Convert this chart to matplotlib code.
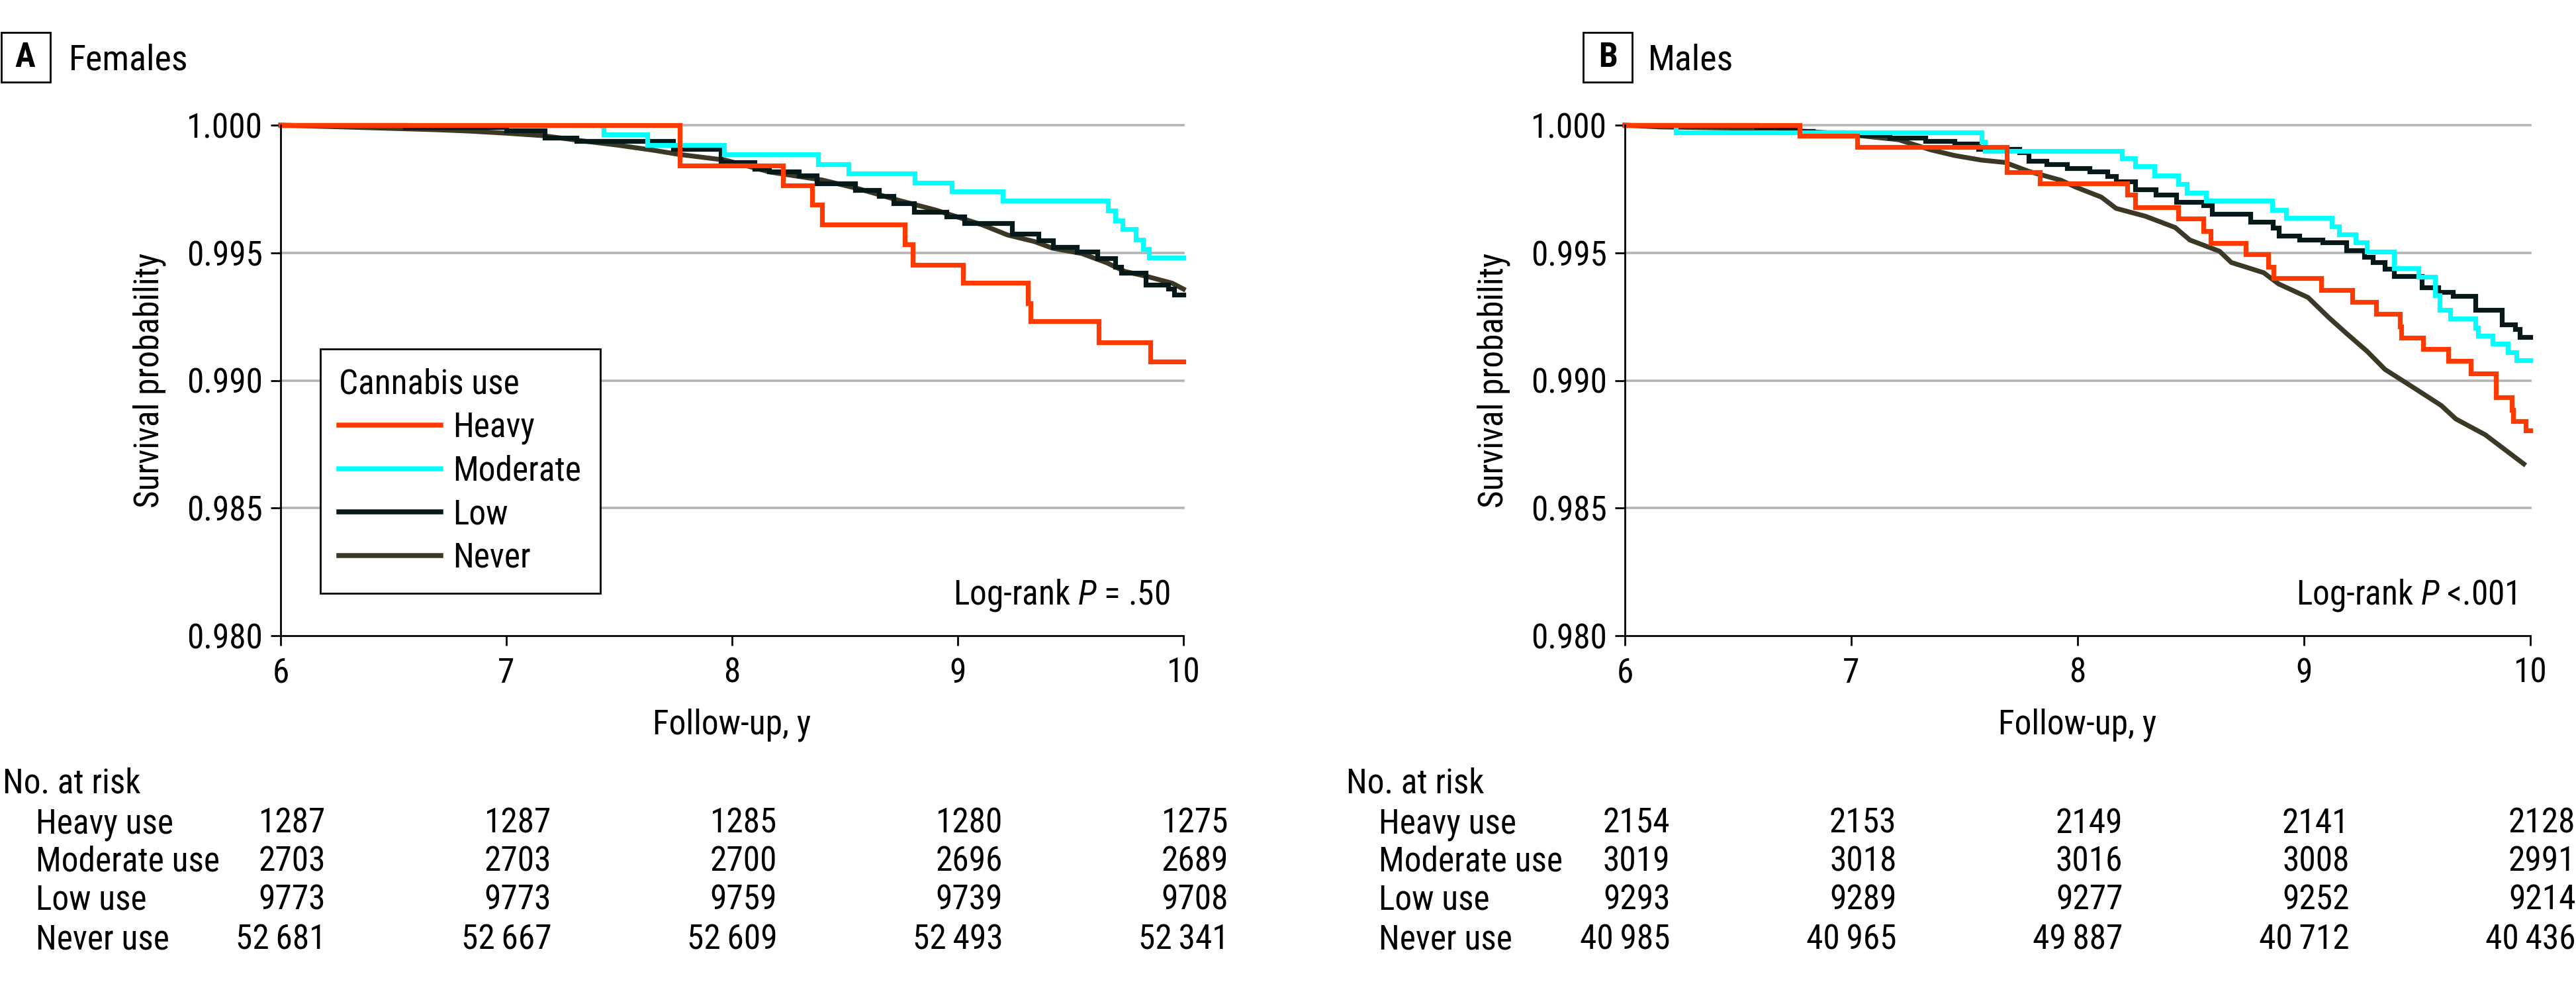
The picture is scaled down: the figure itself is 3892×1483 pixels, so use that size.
import matplotlib
matplotlib.use('Agg')
import matplotlib.pyplot as plt
from matplotlib import font_manager as fm
from matplotlib.patches import Rectangle
from matplotlib.lines import Line2D
from matplotlib.ticker import FormatStrFormatter
import matplotlib.transforms as mtransforms

# ---------------- data ----------------
groups = ["Heavy", "Moderate", "Low", "Never"]
row_labels = ["Heavy use", "Moderate use", "Low use", "Never use"]
x_ticks = [6, 7, 8, 9, 10]
y_ticks = [0.980, 0.985, 0.990, 0.995, 1.000]

# Panel A - Females
fa_heavy_t = [6.0, 7.768, 8.227, 8.355, 8.40, 8.765, 8.80, 9.023, 9.311, 9.324, 9.625, 9.852, 10.0]
fa_heavy_s = [1.0, 0.99842, 0.99764, 0.99689, 0.99611, 0.99534, 0.99453, 0.99383, 0.99303, 0.99231, 0.99148, 0.99073, 0.99073]
fa_mod_t = [6.0, 7.43, 7.625, 7.965, 8.382, 8.516, 8.81, 8.973, 9.2, 9.665, 9.698, 9.73, 9.789, 9.822, 9.848, 10.0]
fa_mod_s = [1.0, 0.99964, 0.99922, 0.99886, 0.99847, 0.99811, 0.99775, 0.99741, 0.99705, 0.99666, 0.99627, 0.99593, 0.99552, 0.99516, 0.99482, 0.99482]
fa_low_t = [6.0, 6.55, 7.0, 7.17, 7.31, 7.74, 7.95, 8.10, 8.165, 8.296, 8.375, 8.545, 8.65, 8.715, 8.807, 8.951,
            9.03, 9.24, 9.357, 9.422, 9.527, 9.619, 9.697, 9.723, 9.834, 9.932, 9.959, 10.0]
fa_low_s = [1.0, 0.99992, 0.99978, 0.99951, 0.99938, 0.99907, 0.99855, 0.9983, 0.99819, 0.99803, 0.99772, 0.99746,
            0.99723, 0.99694, 0.9966, 0.99642, 0.99617, 0.99575, 0.99549, 0.99523, 0.99505, 0.99479, 0.99446, 0.99422,
            0.99376, 0.99358, 0.99337, 0.99337]
fa_never_t = [6.0, 6.39, 6.69, 6.83, 6.99, 7.16, 7.34, 7.49, 7.65, 7.76, 7.97, 8.17, 8.40, 8.56, 8.74, 8.90, 9.11,
              9.22, 9.34, 9.42, 9.55, 9.66, 9.74, 9.84, 9.95, 10.0]
fa_never_s = [1.0, 0.9999, 0.99982, 0.99977, 0.99969, 0.99959, 0.99938, 0.99922, 0.99902, 0.99886, 0.99863, 0.99816,
              0.99785, 0.99751, 0.99705, 0.99668, 0.99609, 0.9957, 0.99544, 0.99518, 0.99497, 0.99461, 0.99427,
              0.99407, 0.99381, 0.99358]

# Panel B - Males
mb_heavy_t = [6.0, 6.772, 7.027, 7.686, 7.832, 8.22, 8.254, 8.443, 8.555, 8.587, 8.744, 8.842, 8.866, 9.075, 9.214,
              9.318, 9.423, 9.43, 9.527, 9.638, 9.736, 9.847, 9.919, 9.925, 9.98, 10.0]
mb_heavy_s = [1.0, 0.99958, 0.99914, 0.99815, 0.99771, 0.99727, 0.99678, 0.99634, 0.99586, 0.99537, 0.99495, 0.99444,
              0.994, 0.99354, 0.99308, 0.99261, 0.99211, 0.99168, 0.99123, 0.99076, 0.99028, 0.98935, 0.98884, 0.9884,
              0.98805, 0.98805]
mb_mod_t = [6.0, 6.224, 7.575, 7.59, 8.196, 8.254, 8.339, 8.443, 8.483, 8.567, 8.861, 8.92, 9.123, 9.155, 9.227,
            9.279, 9.397, 9.507, 9.579, 9.599, 9.645, 9.756, 9.77, 9.834, 9.9, 9.939, 10.0]
mb_mod_s = [1.0, 0.99971, 0.99934, 0.999, 0.9987, 0.99839, 0.99803, 0.99768, 0.99735, 0.99705, 0.99669, 0.99638,
            0.99603, 0.99572, 0.9954, 0.99504, 0.9944, 0.99405, 0.99334, 0.99277, 0.99242, 0.99206, 0.99175, 0.99145,
            0.99109, 0.99078, 0.99078]
mb_low_t = [6.0, 6.583, 6.687, 6.752, 6.831, 6.961, 7.17, 7.327, 7.457, 7.562, 7.744, 7.784, 7.862, 7.953, 8.052,
            8.131, 8.17, 8.255, 8.346, 8.437, 8.555, 8.594, 8.764, 8.862, 8.888, 8.979, 9.083, 9.188, 9.266, 9.305,
            9.358, 9.397, 9.521, 9.593, 9.658, 9.756, 9.873, 9.932, 9.952, 10.0]
mb_low_s = [1.0, 0.99991, 0.99982, 0.99976, 0.99971, 0.9996, 0.9995, 0.99938, 0.99927, 0.99907, 0.99894, 0.99859,
            0.99846, 0.99832, 0.99819, 0.998, 0.9978, 0.99749, 0.99727, 0.997, 0.99687, 0.99652, 0.99621, 0.99599,
            0.99568, 0.9955, 0.99541, 0.99511, 0.99484, 0.99462, 0.99436, 0.99409, 0.99365, 0.99347, 0.9933, 0.99277,
            0.9922, 0.99202, 0.99171, 0.99171]
mb_never_t = [6.0, 6.152, 6.596, 6.948, 7.209, 7.353, 7.457, 7.575, 7.679, 7.784, 7.927, 7.99, 8.105, 8.17, 8.3,
              8.431, 8.496, 8.627, 8.679, 8.822, 8.888, 9.018, 9.11, 9.188, 9.279, 9.358, 9.475, 9.606, 9.671, 9.801,
              9.88, 9.971]
mb_never_s = [1.0, 0.99993, 0.99987, 0.99967, 0.99943, 0.99903, 0.99881, 0.99863, 0.99854, 0.99819, 0.99784, 0.99758,
              0.99718, 0.99674, 0.99643, 0.99599, 0.9955, 0.99506, 0.99462, 0.99422, 0.99378, 0.99325, 0.99246,
              0.99184, 0.99114, 0.99043, 0.98977, 0.98902, 0.98849, 0.98787, 0.98734, 0.98673]

# Numbers at risk
fa_risk_heavy = [1287, 1287, 1285, 1280, 1275]
fa_risk_mod = [2703, 2703, 2700, 2696, 2689]
fa_risk_low = [9773, 9773, 9759, 9739, 9708]
fa_risk_never = [52681, 52667, 52609, 52493, 52341]
mb_risk_heavy = [2154, 2153, 2149, 2141, 2128]
mb_risk_mod = [3019, 3018, 3016, 3008, 2991]
mb_risk_low = [9293, 9289, 9277, 9252, 9214]
mb_risk_never = [40985, 40965, 49887, 40712, 40436]

# ---------------- style ----------------
names = {f.name for f in fm.fontManager.ttflist}
prefs = ['Roboto Condensed', 'Liberation Sans Narrow', 'Archivo Narrow', 'Lato', 'Liberation Sans']
FONT = next(n for n in prefs if n in names)
plt.rcParams['font.family'] = [FONT, 'DejaVu Sans']
plt.rcParams['mathtext.fontset'] = 'custom'
plt.rcParams['mathtext.rm'] = FONT
plt.rcParams['mathtext.it'] = FONT + ':italic'

colors = {"Heavy": "#ff3a00", "Moderate": "#00ffff", "Low": "#061818", "Never": "#3b3826"}
GRID = "#b4b4b4"
LW = 2.6
FS = 18.5

W, H = 3892, 1483
DPI = 200
fig = plt.figure(figsize=(W / DPI, H / DPI), dpi=DPI)


def fy(y):
    return 1 - y / H


def fmt(n):
    s = str(n)
    if n >= 10000:
        s = s[:-3] + "\u2009" + s[-3:]
    return s


panels = [
    dict(rect=[424 / W, 1 - 960 / H, 1364 / W, 771 / H], letter="A", title="Females",
         box_x=0, title_x=104, logrank="Log-rank $P$ = .50",
         curves=[(fa_never_t, fa_never_s, "Never"), (fa_low_t, fa_low_s, "Low"),
                 (fa_mod_t, fa_mod_s, "Moderate"), (fa_heavy_t, fa_heavy_s, "Heavy")],
         risk=[fa_risk_heavy, fa_risk_mod, fa_risk_low, fa_risk_never], legend=True),
    dict(rect=[2455 / W, 1 - 960 / H, 1368 / W, 771 / H], letter="B", title="Males",
         box_x=2392, title_x=2490, logrank="Log-rank $P$ <.001",
         curves=[(mb_never_t, mb_never_s, "Never"), (mb_low_t, mb_low_s, "Low"),
                 (mb_mod_t, mb_mod_s, "Moderate"), (mb_heavy_t, mb_heavy_s, "Heavy")],
         risk=[mb_risk_heavy, mb_risk_mod, mb_risk_low, mb_risk_never], legend=False),
]

row_base = [1258, 1315, 1373, 1433]

for p in panels:
    ax = fig.add_axes(p["rect"])
    ax.set_xlim(6, 10)
    ax.set_ylim(0.980, 1.000)
    ax.set_xticks(x_ticks)
    ax.set_yticks(y_ticks)
    ax.yaxis.set_major_formatter(FormatStrFormatter('%.3f'))
    for s in ["top", "right"]:
        ax.spines[s].set_visible(False)
    for s in ["left", "bottom"]:
        ax.spines[s].set_linewidth(1.0)
        ax.spines[s].set_zorder(5)
    ax.tick_params(axis='both', length=5.5, width=1.0, labelsize=FS)
    ax.tick_params(axis='y', pad=4.3)
    ax.tick_params(axis='x', pad=6)
    for yv in y_ticks[1:]:
        ax.axhline(yv, color=GRID, lw=1.3, zorder=0.5, clip_on=False)

    for t, s, g in p["curves"]:
        z = {"Never": 2.0, "Low": 2.1, "Moderate": 2.2, "Heavy": 2.3}[g]
        if g == "Never":
            ax.plot(t, s, color=colors[g], lw=LW, zorder=z, clip_on=False, solid_joinstyle='miter')
        else:
            ax.step(t, s, where='post', color=colors[g], lw=LW, zorder=z, clip_on=False,
                    solid_joinstyle='miter')

    ax.set_ylabel("Survival probability", fontsize=FS, labelpad=11)
    ax.set_xlabel("Follow-up, y", fontsize=FS, labelpad=10)
    ax.text(0.985, 0.061, p["logrank"], transform=ax.transAxes, ha='right', va='baseline', fontsize=FS)

    if p["legend"]:
        lh = [Line2D([], [], color=colors[g], lw=2.7) for g in groups]
        leg = ax.legend(lh, groups, title="Cannabis use", loc='lower left',
                        bbox_to_anchor=(0.044, 0.083), fontsize=FS, title_fontsize=FS,
                        frameon=True, fancybox=False, framealpha=1, edgecolor='black',
                        borderpad=0.55, handlelength=3.0, handletextpad=0.35, labelspacing=0.3,
                        alignment='left', borderaxespad=0)
        leg.get_frame().set_linewidth(1.0)

    # panel label
    bx = p["box_x"]
    fig.patches.append(Rectangle((max(bx, 1.5) / W, fy(124)), 74 / W, 75 / H, transform=fig.transFigure,
                                 fill=False, ec='black', lw=1.0))
    fig.text((bx + 38) / W, fy(87), p["letter"], ha='center', va='center', fontsize=FS, fontweight='bold')
    fig.text(p["title_x"] / W, fy(106), p["title"], ha='left', va='baseline', fontsize=19.5)

    # number at risk table
    tr_data = mtransforms.blended_transform_factory(ax.transData, fig.transFigure)
    tr_axes = mtransforms.blended_transform_factory(ax.transAxes, fig.transFigure)
    ax.text(-0.3076, fy(1198), "No. at risk", transform=tr_axes, ha='left', va='baseline', fontsize=FS)
    for r, (lab, vals) in enumerate(zip(row_labels, p["risk"])):
        ax.text(-0.2716, fy(row_base[r]), lab, transform=tr_axes, ha='left', va='baseline', fontsize=FS)
        for xt, v in zip(x_ticks, vals):
            ax.text(xt + 0.2, fy(row_base[r]), fmt(v), transform=tr_data, ha='right', va='baseline',
                    fontsize=FS)

fig.savefig("out.png", dpi=DPI)
